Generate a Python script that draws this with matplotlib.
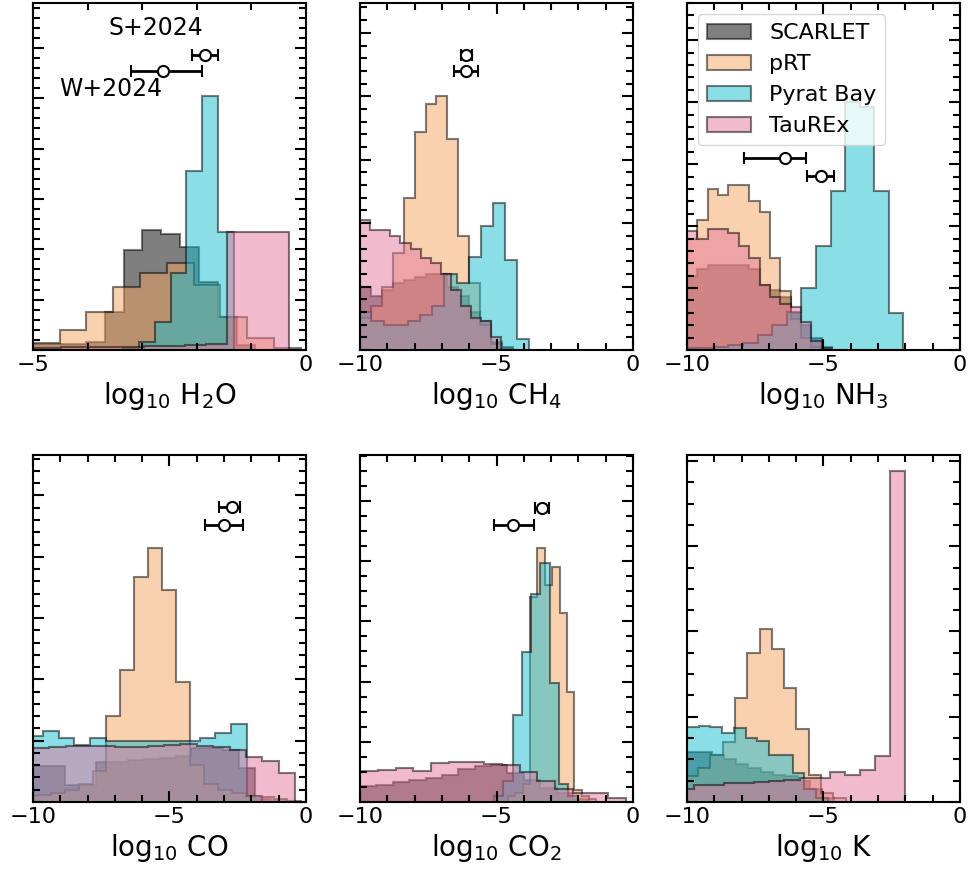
import numpy as np
import matplotlib
matplotlib.use("Agg")
import matplotlib.pyplot as plt
from matplotlib.ticker import MultipleLocator
from matplotlib.patches import Patch

# retrieval codes, in legend order
codes = ["SCARLET", "pRT", "Pyrat Bay", "TauREx"]
code_colors = ["black", "sandybrown", "tab:cyan", "#e5769c"]

# molecules shown, one panel each
species = [r"H$_2$O", r"CH$_4$", r"NH$_3$", "CO", r"CO$_2$", "K"]

# posterior histograms: (first edge, bin width) and bin heights (arbitrary density units)
h2o_scarlet_bins = (-5.066, 0.345)
h2o_scarlet = [0.12, 0.12, 0.12, 0.15, 0.76, 1.99, 2.38, 2.30, 2.04, 1.36, 0.66, 0.10]
h2o_prt_bins = (-5.0, 0.49)
h2o_prt = [0.13, 0.40, 0.76, 1.26, 1.52, 1.72, 1.30, 0.66, 0.23, 0.05]
h2o_pyrat_bins = (-3.35, 0.29)
h2o_pyrat = [0.05, 0.15, 0.55, 1.52, 3.56, 5.05, 2.35]
h2o_taurex_bins = (-5.25, 0.38)
h2o_taurex = [0.05, 0.05, 0.06, 0.06, 0.07, 0.07, 0.08, 0.09, 0.10, 0.12, 2.34, 2.34, 2.34]

ch4_scarlet_bins = (-10.0, 0.4)
ch4_scarlet = [1.0, 0.85, 0.95, 1.05, 1.1, 1.15, 1.2, 1.2, 1.0, 0.85, 0.6, 0.45, 0.12, 0.05]
ch4_prt_bins = (-10.0, 0.4)
ch4_prt = [0.5, 0.7, 1.0, 1.53, 2.39, 3.44, 3.88, 4.0, 3.32, 1.79, 1.05, 0.4, 0.1, 0.02]
ch4_pyrat_bins = (-10.025, 0.445)
ch4_pyrat = [0.6, 0.45, 0.4, 0.4, 0.45, 0.55, 0.7, 1.2, 1.05, 1.47, 1.95, 2.32, 1.42, 0.18]
ch4_taurex_bins = (-10.0, 0.37)
ch4_taurex = [2.05, 1.89, 1.89, 1.79, 1.68, 1.6, 1.45, 1.37, 1.2, 0.95, 0.7, 0.5, 0.45, 0.2]

nh3_scarlet_bins = (-10.0, 0.38)
nh3_scarlet = [1.19, 1.3, 1.38, 1.38, 1.38, 1.38, 1.3, 1.05, 0.97, 0.85, 0.6, 0.4, 0.2, 0.05]
nh3_prt_bins = (-10.0, 0.38)
nh3_prt = [1.79, 2.1, 2.6, 2.5, 2.66, 2.66, 2.4, 2.22, 1.49, 0.95, 0.5, 0.2, 0.05]
nh3_pyrat_bins = (-10.08, 0.534)
nh3_pyrat = [0.03, 0.03, 0.05, 0.08, 0.12, 0.25, 0.4, 0.62, 1.0, 1.68, 2.57, 4.0, 3.92, 2.57, 0.59]
nh3_taurex_bins = (-10.0, 0.38)
nh3_taurex = [1.92, 1.79, 1.96, 1.96, 1.89, 1.68, 1.49, 1.05, 0.85, 0.75, 0.7, 0.45, 0.15, 0.03]

co_scarlet_bins = (-10.0, 0.58)
co_scarlet = [0.58, 0.58, 0.28, 0.28, 0.66, 0.66, 0.68, 0.7, 0.72, 0.75, 0.88, 0.88, 0.85, 0.55, 0.05, 0.02]
co_prt_bins = (-10.37, 0.51)
co_prt = [0.1, 0.12, 0.15, 0.2, 0.3, 0.5, 1.4, 2.16, 3.67, 4.14, 3.45, 1.96,
          0.6, 0.3, 0.2, 0.15, 0.1, 0.08, 0.05, 0.02]
co_pyrat_bins = (-10.2, 0.573)
co_pyrat = [1.08, 1.16, 1.05, 0.93, 1.05, 1.0, 1.0, 1.0, 1.0, 1.0, 0.99, 1.04, 1.12, 1.27, 0.1]
co_taurex_bins = (-10.0, 0.6)
co_taurex = [0.88, 0.9, 0.91, 0.92, 0.91, 0.9, 0.9, 0.92, 0.93, 0.94, 0.92, 0.9, 0.85, 0.74, 0.67, 0.47]

co2_scarlet_bins = (-10.0, 0.6)
co2_scarlet = [0.26, 0.29, 0.33, 0.36, 0.4, 0.45, 0.54, 0.59, 0.62, 0.48, 0.37, 0.23, 0.15, 0.05]
co2_prt_bins = (-4.58, 0.27)
co2_prt = [0.1, 0.15, 0.3, 3.4, 4.21, 3.6, 3.9, 3.13, 1.83, 0.2, 0.1, 0.05]
co2_pyrat_bins = (-5.09, 0.34)
co2_pyrat = [0.1, 0.35, 1.45, 2.49, 3.46, 3.96, 1.97, 0.3, 0.1]
co2_taurex_bins = (-10.0, 0.65)
co2_taurex = [0.51, 0.53, 0.56, 0.51, 0.65, 0.66, 0.67, 0.63, 0.62, 0.5, 0.35, 0.22, 0.15, 0.15, 0.07]

k_scarlet_bins = (-10.0, 0.45)
k_scarlet = [0.59, 0.59, 0.55, 0.5, 0.45, 0.4, 0.35, 0.32, 0.3, 0.25, 0.15, 0.05]
k_prt_bins = (-10.04, 0.45)
k_prt = [0.3, 0.4, 0.55, 0.7, 1.22, 1.75, 2.03, 1.8, 1.34, 0.86, 0.32, 0.1, 0.05]
k_pyrat_bins = (-10.0, 0.43)
k_pyrat = [0.88, 0.89, 0.88, 0.81, 0.87, 0.75, 0.71, 0.55, 0.55, 0.34, 0.15, 0.05]
k_taurex_bins = (-10.3, 0.553)
k_taurex = [0.15, 0.2, 0.2, 0.22, 0.22, 0.23, 0.25, 0.26, 0.28, 0.28, 0.35, 0.32, 0.38, 0.54, 3.88]

# literature values (S+2024 upper row, W+2024 lower row), first five panels
s2024_x = [-1.85, -6.1, -6.4, -2.7, -3.33]
s2024_lo = [0.23, 0.2, 1.51, 0.49, 0.25]
s2024_hi = [0.23, 0.2, 0.77, 0.28, 0.25]
w2024_x = [-2.62, -6.12, -5.1, -3.0, -4.41]
w2024_lo = [0.59, 0.45, 0.5, 0.7, 0.68]
w2024_hi = [0.71, 0.45, 0.47, 0.7, 0.79]

hists = [
    [(h2o_scarlet_bins, h2o_scarlet), (h2o_prt_bins, h2o_prt), (h2o_pyrat_bins, h2o_pyrat), (h2o_taurex_bins, h2o_taurex)],
    [(ch4_scarlet_bins, ch4_scarlet), (ch4_prt_bins, ch4_prt), (ch4_pyrat_bins, ch4_pyrat), (ch4_taurex_bins, ch4_taurex)],
    [(nh3_scarlet_bins, nh3_scarlet), (nh3_prt_bins, nh3_prt), (nh3_pyrat_bins, nh3_pyrat), (nh3_taurex_bins, nh3_taurex)],
    [(co_scarlet_bins, co_scarlet), (co_prt_bins, co_prt), (co_pyrat_bins, co_pyrat), (co_taurex_bins, co_taurex)],
    [(co2_scarlet_bins, co2_scarlet), (co2_prt_bins, co2_prt), (co2_pyrat_bins, co2_pyrat), (co2_taurex_bins, co2_taurex)],
    [(k_scarlet_bins, k_scarlet), (k_prt_bins, k_prt), (k_pyrat_bins, k_pyrat), (k_taurex_bins, k_taurex)],
]

xmins = [-5, -10, -10, -10, -10, -10]
ytops = [6.89, 5.47, 5.6, 5.66, 5.76, 4.07]
yminor = [0.2, 0.2, 0.2, 0.2, 0.25, 0.25]
# height of the two reference points, as axes fraction
pt_y = [(0.851, 0.803), (0.851, 0.803), (0.553, 0.502), (0.851, 0.798), (0.848, 0.798)]

fig = plt.figure(figsize=(9.73, 8.74), dpi=100)
lefts = [0.0339, 0.370, 0.706]
bottoms = [0.5995, 0.0824]

for i in range(6):
    ax = fig.add_axes([lefts[i % 3], bottoms[i // 3], 0.2806, 0.397])
    for ((start, width), h), c in zip(hists[i], code_colors):
        edges = start + width * np.arange(len(h) + 1)
        ax.stairs(h, edges, fill=True, facecolor=c, edgecolor="black",
                  alpha=0.5, lw=1.5)

    ax.set_xlim(xmins[i], 0)
    ax.set_ylim(0, ytops[i])
    ax.xaxis.set_major_locator(MultipleLocator(5))
    ax.xaxis.set_minor_locator(MultipleLocator(1))
    ax.yaxis.set_major_locator(MultipleLocator(1))
    ax.yaxis.set_minor_locator(MultipleLocator(yminor[i]))
    ax.tick_params(which="both", direction="in", top=True, right=True,
                   labelleft=False, width=1.5, labelsize=16)
    ax.tick_params(which="major", length=8)
    ax.tick_params(which="minor", length=5)
    for sp in ax.spines.values():
        sp.set_linewidth(1.5)
    ax.set_xlabel("log$_{10}$ " + species[i], fontsize=20)

    if i < 5:
        yt = ytops[i]
        ax.errorbar(s2024_x[i], pt_y[i][0] * yt, xerr=[[s2024_lo[i]], [s2024_hi[i]]],
                    fmt="o", color="black", mfc="white", mec="black", ms=8, mew=1.5,
                    elinewidth=2, capsize=4, capthick=2, zorder=5)
        ax.errorbar(w2024_x[i], pt_y[i][1] * yt, xerr=[[w2024_lo[i]], [w2024_hi[i]]],
                    fmt="o", color="black", mfc="white", mec="black", ms=8, mew=1.5,
                    elinewidth=2, capsize=4, capthick=2, zorder=5)

    if i == 0:
        ax.text(-2.75, 0.928 * ytops[0], "S+2024", ha="center", va="center", fontsize=17)
        ax.text(-3.58, 0.752 * ytops[0], "W+2024", ha="center", va="center", fontsize=17)

    if i == 2:
        handles = [Patch(facecolor=c, edgecolor="black", alpha=0.5, lw=1.5) for c in code_colors]
        ax.legend(handles, codes, loc="upper left", fontsize=16)

fig.savefig("out.png", dpi=100)
